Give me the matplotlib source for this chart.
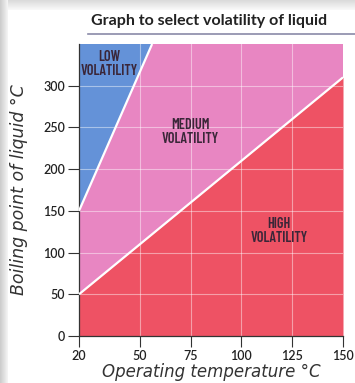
import numpy as np
import matplotlib
matplotlib.use('Agg')
import matplotlib.pyplot as plt
from matplotlib.patches import Rectangle

# boundary lines between volatility zones (operating temp, boiling point)
low_med_x = [20, 56]
low_med_y = [150, 350]
med_high_x = [20, 150]
med_high_y = [50, 310]

x_ticks = [20, 50, 75, 100, 125, 150]
y_ticks = [0, 50, 100, 150, 200, 250, 300]
zone_labels = ['LOW\nVOLATILITY', 'MEDIUM\nVOLATILITY', 'HIGH\nVOLATILITY']
zone_label_pos = [(35, 326), (75, 245), (118.5, 126)]

xmin, xmax = 20, 150
ymin, ymax = 0, 350

blue = '#6492d8'
pink = '#e886c2'
red = '#ee5264'
label_col = '#3a2638'
narrow = ['Barlow Condensed', 'Fira Sans Extra Condensed', 'Roboto Condensed']

fig = plt.figure(figsize=(3.55, 3.83), dpi=100)
fig.patch.set_facecolor('white')

# grey frame on the left and top edges
for i in range(8):
    a = 0.35 * (1 - i / 9)
    fig.patches.append(Rectangle((i / 355, 0), 1 / 355, 1, transform=fig.transFigure,
                                 facecolor='#707070', alpha=a, edgecolor='none'))
for i in range(10):
    a = 0.25 * (1 - i / 11)
    fig.patches.append(Rectangle((8 / 355, 1 - (i + 1) / 383), 1, 1 / 383, transform=fig.transFigure,
                                 facecolor='#707070', alpha=a, edgecolor='none'))

ax = fig.add_axes([79 / 355, 1 - 336 / 383, 264 / 355, 292 / 383])

# fill zones
ax.fill_between([xmin, xmax], ymin, ymax, color=pink, lw=0, zorder=0)
ax.fill_between(med_high_x, ymin, med_high_y, color=red, lw=0, zorder=1)
ax.fill([xmin, low_med_x[0], low_med_x[1]], [ymax, low_med_y[0], low_med_y[1]], color=blue, lw=0, zorder=1)

ax.plot(low_med_x, low_med_y, color='white', lw=1.6, zorder=3, solid_capstyle='butt')
ax.plot(med_high_x, med_high_y, color='white', lw=1.6, zorder=3, solid_capstyle='butt')

# light grid
for x in x_ticks[1:-1]:
    ax.axvline(x, color='white', lw=0.8, alpha=0.45, zorder=2)
for y in y_ticks[1:]:
    ax.axhline(y, color='white', lw=0.8, alpha=0.45, zorder=2)

for text, (lx, ly) in zip(zone_labels, zone_label_pos):
    ax.text(lx, ly, text, ha='center', va='center', fontsize=10.3, fontweight='semibold',
            color=label_col, family=narrow, linespacing=1.0, zorder=4)

ax.set_xlim(xmin, xmax)
ax.set_ylim(ymin, ymax)
ax.set_xticks(x_ticks)
ax.set_yticks(y_ticks)
for s in ['top', 'right']:
    ax.spines[s].set_visible(False)
for s in ['left', 'bottom']:
    ax.spines[s].set_color('#333333')
    ax.spines[s].set_linewidth(0.9)
ax.tick_params(direction='out', length=8, width=0.8, color='#333333',
               labelsize=8.5, labelcolor='#222222', pad=2)
for lab in ax.get_xticklabels() + ax.get_yticklabels():
    lab.set_family('Lato')
    lab.set_fontsize(9)
    lab.set_fontweight('semibold')
ax.set_xlabel('Operating temperature °C', fontsize=12, style='italic', color='#333333',
              family='DejaVu Sans', labelpad=1)
ax.set_ylabel('Boiling point of liquid °C', fontsize=12.5, style='italic', color='#333333',
              family='DejaVu Sans', labelpad=11)

fig.text(209 / 355, 1 - 21 / 383, 'Graph to select volatility of liquid', ha='center', va='center',
         fontsize=11.5, fontweight='bold', color='#222222', family='Lato')
fig.add_artist(plt.Line2D([88 / 355, 1], [1 - 34 / 383] * 2, color='#8a8aa8', lw=1.2))

fig.savefig('out.png', dpi=100)
